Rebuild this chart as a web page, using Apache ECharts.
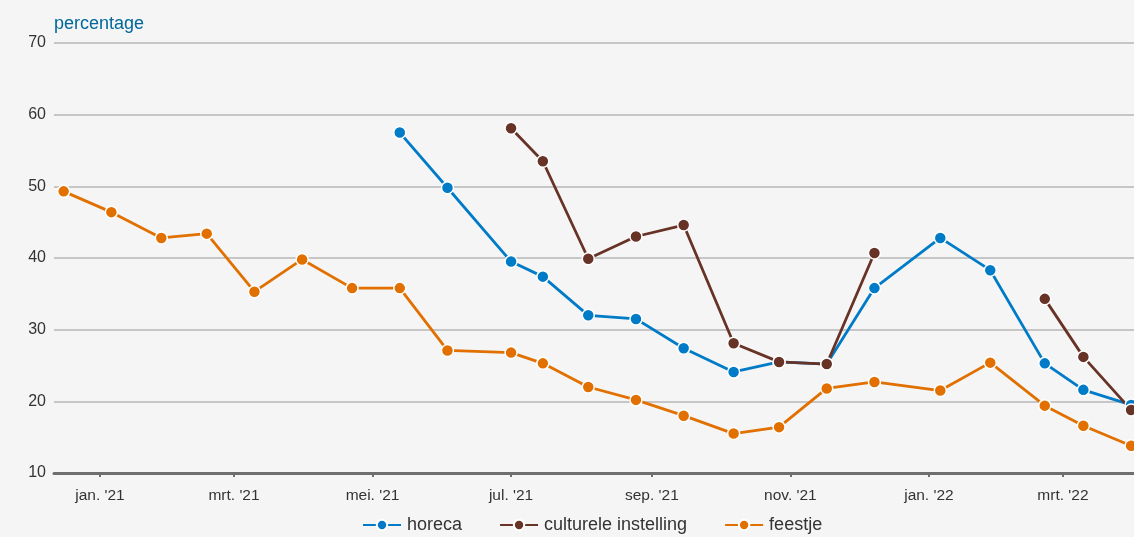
<!DOCTYPE html>
<html>
<head>
	<meta charset="utf-8">
	<title>percentage</title>
	<style>
		html, body { margin: 0; padding: 0; background: #f5f5f5; }
		#chart { width: 1134px; height: 537px; }
	</style>
	<script src="https://cdn.jsdelivr.net/npm/echarts@6/dist/echarts.min.js"></script>
</head>
<body>
<div id="chart"></div>
<script>
	// meetmomenten (ongeveer elke 3 weken)
	var dates = ['2020-12-16', '2021-01-06', '2021-01-28', '2021-02-17', '2021-03-10', '2021-03-31',
		'2021-04-22', '2021-05-13', '2021-06-03', '2021-07-01', '2021-07-15', '2021-08-04',
		'2021-08-25', '2021-09-15', '2021-10-07', '2021-10-27', '2021-11-17', '2021-12-08',
		'2022-01-06', '2022-01-28', '2022-02-21', '2022-03-10', '2022-03-31'];

	var horeca = [null, null, null, null, null, null,
		null, 57.5, 49.8, 39.5, 37.4, 32.0,
		31.5, 27.4, 24.1, 25.5, 25.2, 35.8,
		42.8, 38.3, 25.3, 21.6, 19.5];

	var cultuur = [null, null, null, null, null, null,
		null, null, null, 58.1, 53.5, 39.9,
		43.0, 44.6, 28.1, 25.5, 25.2, 40.7,
		null, null, 34.3, 26.2, 18.8];

	var feestje = [49.3, 46.4, 42.8, 43.4, 35.3, 39.8,
		35.8, 35.8, 27.1, 26.8, 25.3, 22.0,
		20.2, 18.0, 15.5, 16.4, 21.8, 22.7,
		21.5, 25.4, 19.4, 16.6, 13.8];

	var maanden = ['jan.', 'feb.', 'mrt.', 'apr.', 'mei.', 'jun.', 'jul.', 'aug.', 'sep.', 'okt.', 'nov.', 'dec.'];

	function pairs(arr) {
		return dates.map(function (d, i) { return [d, arr[i]]; });
	}

	function lijn(naam, kleur, arr) {
		return {
			name: naam,
			type: 'line',
			data: pairs(arr),
			connectNulls: false,
			symbol: 'circle',
			symbolSize: 12,
			lineStyle: { color: kleur, width: 2.8 },
			itemStyle: { color: kleur, borderColor: '#ffffff', borderWidth: 1.5 },
			emphasis: { disabled: true }
		};
	}

	var myChart = echarts.init(document.getElementById('chart'));

	var option = {
		backgroundColor: '#f5f5f5',
		animation: false,
		textStyle: { fontFamily: 'Liberation Sans, Arial, sans-serif' },
		grid: { left: 54, right: 0, top: 43, bottom: 64 },
		legend: {
			left: 357,
			bottom: -2,
			itemWidth: 38,
			itemHeight: 13,
			itemGap: 37,
			textStyle: { fontSize: 18, color: '#333333', padding: [0, 0, 0, 1] },
			data: ['horeca', 'culturele instelling', 'feestje']
		},
		xAxis: {
			type: 'time',
			min: '2020-12-11 18:00',
			max: '2022-04-01 07:00',
			splitNumber: 6,
			axisLine: { lineStyle: { color: '#6e6e6e', width: 3 } },
			axisTick: { show: true, length: 4, lineStyle: { color: '#6e6e6e', width: 2 } },
			splitLine: { show: false },
			axisLabel: {
				fontSize: 15.5,
				color: '#333333',
				margin: 15,
				showMinLabel: false,
				showMaxLabel: false,
				formatter: function (val) {
					var d = new Date(val);
					return maanden[d.getMonth()] + " '" + String(d.getFullYear()).slice(2);
				}
			}
		},
		yAxis: {
			type: 'value',
			min: 10,
			max: 70,
			interval: 10,
			name: 'percentage',
			nameLocation: 'end',
			nameGap: 10,
			nameTextStyle: { align: 'left', color: '#01689b', fontSize: 18 },
			axisLine: { show: false },
			axisTick: { show: false },
			axisLabel: { fontSize: 16, color: '#333333', margin: 8 },
			splitLine: { lineStyle: { color: '#c6c6c6', width: 2 } }
		},
		series: [
			lijn('horeca', '#007bc7', horeca),
			lijn('culturele instelling', '#673327', cultuur),
			lijn('feestje', '#e17000', feestje)
		]
	};

	myChart.setOption(option);
</script>
</body>
</html>
